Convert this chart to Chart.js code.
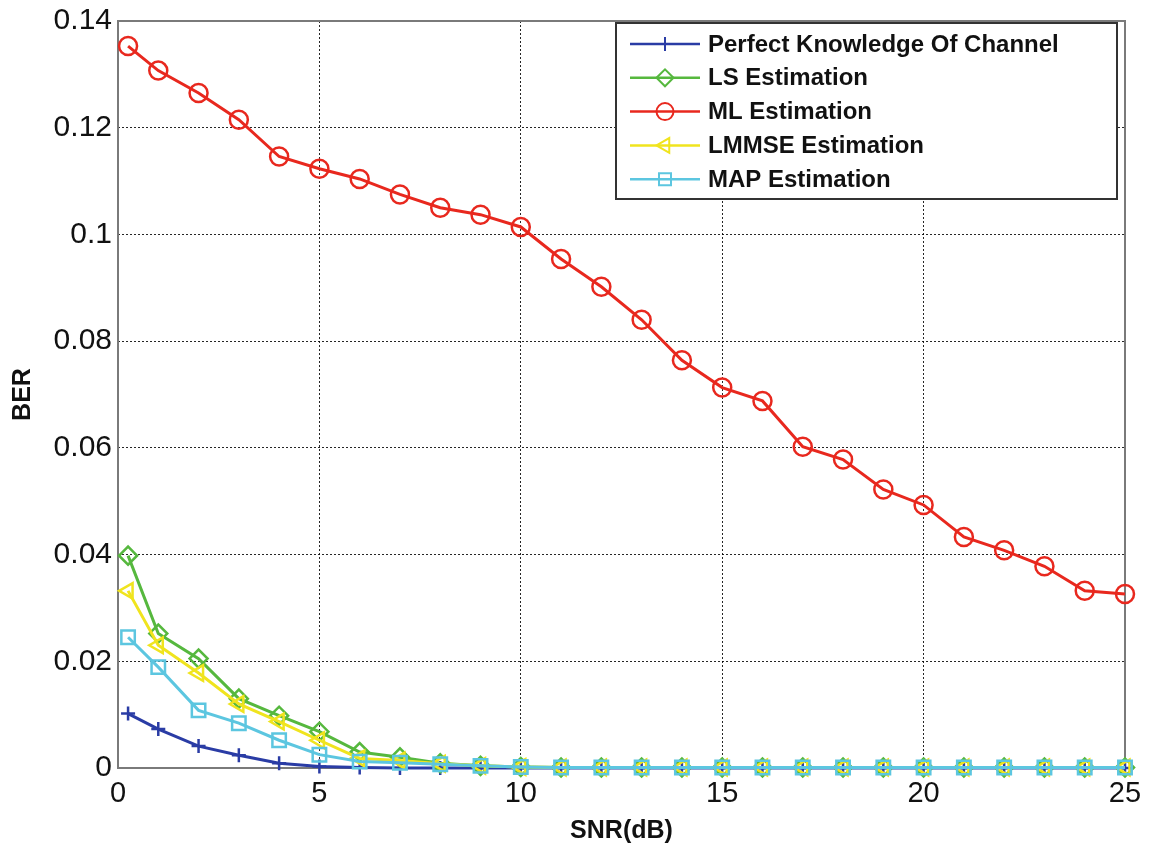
<!DOCTYPE html>
<html><head><meta charset="utf-8">
<script src="https://cdn.jsdelivr.net/npm/chart.js@4"></script>
<style>html,body{margin:0;padding:0;background:#fff}#wrap{width:1152px;height:846px}</style>
</head><body><div id="wrap"><canvas id="c" width="1152" height="846"></canvas></div>
<script>
const snr = [0.25,1,2,3,4,5,6,7,8,9,10,11,12,13,14,15,16,17,18,19,20,21,22,23,24,25];
const perfect = [0.0102,0.0073,0.0041,0.0024,0.0009,0.0003,0.0001,0,0,0,0,0,0,0,0,0,0,0,0,0,0,0,0,0,0,0];
const lsEst = [0.0398,0.0252,0.0205,0.0130,0.0098,0.0068,0.0030,0.0020,0.0009,0.0004,0.0002,0.0001,0.0001,0.0001,0.0001,0.0001,0.0001,0.0001,0.0001,0.0001,0.0001,0.0001,0.0001,0.0001,0.0001,0.0001];
const mlEst = [0.1353,0.1307,0.1265,0.1215,0.1146,0.1123,0.1104,0.1075,0.1050,0.1037,0.1014,0.0954,0.0902,0.0840,0.0764,0.0713,0.0688,0.0602,0.0578,0.0522,0.0493,0.0433,0.0408,0.0378,0.0332,0.0326];
const lmmseEst = [0.0332,0.0230,0.0178,0.0120,0.0087,0.0052,0.0018,0.0014,0.0008,0.0004,0.0002,0.0001,0.0001,0.0001,0.0001,0.0001,0.0001,0.0001,0.0001,0.0001,0.0001,0.0001,0.0001,0.0001,0.0001,0.0001];
const mapEst = [0.0245,0.0189,0.0108,0.0084,0.0052,0.0025,0.0012,0.0010,0.0007,0.0004,0.0002,0.0001,0.0001,0.0001,0.0001,0.0001,0.0001,0.0001,0.0001,0.0001,0.0001,0.0001,0.0001,0.0001,0.0001,0.0001];
const seriesNames = ['Perfect Knowledge Of Channel','LS Estimation','ML Estimation','LMMSE Estimation','MAP Estimation'];
const xTitle = 'SNR(dB)';
const yTitle = 'BER';

const FONT = "'Liberation Sans', Arial, Helvetica, sans-serif";
const colors = ['rgb(42,60,165)','rgb(86,184,62)','rgb(232,40,30)','rgb(240,228,30)','rgb(92,198,224)'];
const styles = ['cross','rectRot','circle','triangle','rect'];
const rots = [0,0,0,270,0];
const radii = [7,9,9,9,9.5];
const allSeries = [perfect, lsEst, mlEst, lmmseEst, mapEst];

const datasets = allSeries.map((arr, i) => ({
  label: seriesNames[i],
  data: arr.map((v, k) => ({x: snr[k], y: v})),
  borderColor: colors[i],
  backgroundColor: 'transparent',
  borderWidth: 3,
  pointStyle: styles[i],
  pointRotation: rots[i],
  pointRadius: radii[i],
  pointBorderWidth: 2.5,
  pointBorderColor: colors[i],
  pointBackgroundColor: 'transparent',
  tension: 0,
  clip: false,
  order: 4 - i
}));

function drawMarker(ctx, style, x, y, r, rot) {
  ctx.beginPath();
  if (style === 'cross') {
    ctx.moveTo(x - r, y); ctx.lineTo(x + r, y);
    ctx.moveTo(x, y - r); ctx.lineTo(x, y + r);
  } else if (style === 'circle') {
    ctx.arc(x, y, r, 0, Math.PI * 2);
  } else if (style === 'rectRot') {
    ctx.moveTo(x - r, y); ctx.lineTo(x, y - r); ctx.lineTo(x + r, y); ctx.lineTo(x, y + r); ctx.closePath();
  } else if (style === 'rect') {
    const s = r * Math.SQRT1_2;
    ctx.rect(x - s, y - s, 2 * s, 2 * s);
  } else if (style === 'triangle') {
    ctx.moveTo(x - r, y);
    ctx.lineTo(x + r * 0.5, y - r * 0.866);
    ctx.lineTo(x + r * 0.5, y + r * 0.866);
    ctx.closePath();
  }
  ctx.stroke();
}

const boxPlugin = {
  id: 'boxPlugin',
  beforeDatasetsDraw(chart) {
    const {ctx, chartArea: a} = chart;
    ctx.save();
    ctx.strokeStyle = '#7a7a7a';
    ctx.lineWidth = 2;
    ctx.strokeRect(a.left, a.top, a.right - a.left, a.bottom - a.top);
    ctx.restore();
  }
};

const legendPlugin = {
  id: 'matLegend',
  afterDatasetsDraw(chart) {
    const ctx = chart.ctx;
    const bx = 616, by = 23, bw = 501, bh = 176;
    ctx.save();
    ctx.fillStyle = '#fff';
    ctx.fillRect(bx, by, bw, bh);
    ctx.strokeStyle = '#333';
    ctx.lineWidth = 2;
    ctx.strokeRect(bx, by, bw, bh);
    ctx.font = "bold 24px " + FONT;
    ctx.textBaseline = 'middle';
    ctx.textAlign = 'left';
    chart.data.datasets.forEach((ds, i) => {
      const y = 44 + i * 33.8;
      ctx.strokeStyle = ds.borderColor;
      ctx.lineWidth = 2.5;
      ctx.beginPath(); ctx.moveTo(630, y); ctx.lineTo(700, y); ctx.stroke();
      ctx.lineWidth = 2;
      drawMarker(ctx, ds.pointStyle, 665, y, Math.min(ds.pointRadius, 8.5), ds.pointRotation);
      ctx.fillStyle = '#111';
      ctx.fillText(ds.label, 708, y + 1);
    });
    ctx.restore();
  }
};

new Chart(document.getElementById('c'), {
  type: 'line',
  data: { datasets },
  options: {
    responsive: false,
    animation: false,
    layout: { padding: { top: 20, right: 27, left: 0, bottom: 0 } },
    plugins: { legend: { display: false }, tooltip: { enabled: false } },
    scales: {
      x: {
        type: 'linear', min: 0, max: 25,
        ticks: { stepSize: 5, color: '#111', font: { family: FONT, size: 29 }, padding: 9, maxRotation: 0 },
        grid: { color: 'rgba(0,0,0,0.85)', lineWidth: 1, drawTicks: false },
        border: { display: false, dash: [2, 2] },
        title: { display: true, text: xTitle, color: '#111', font: { family: FONT, size: 25, weight: 'bold' }, padding: { top: 0, bottom: 0 } },
        afterFit(s) { s.height = 78; }
      },
      y: {
        type: 'linear', min: 0, max: 0.14,
        ticks: { stepSize: 0.02, color: '#111', font: { family: FONT, size: 30, lineHeight: 1 }, padding: 6,
          callback: v => v === 0 ? '0' : String(+v.toFixed(2)) },
        grid: { color: 'rgba(0,0,0,0.85)', lineWidth: 1, drawTicks: false },
        border: { display: false, dash: [2, 2] },
        title: { display: true, text: yTitle, color: '#111', font: { family: FONT, size: 25, weight: 'bold' }, padding: { top: 8, bottom: 0 } },
        afterFit(s) { s.width = 118; }
      }
    }
  },
  plugins: [boxPlugin, legendPlugin]
});
</script>
</body></html>
